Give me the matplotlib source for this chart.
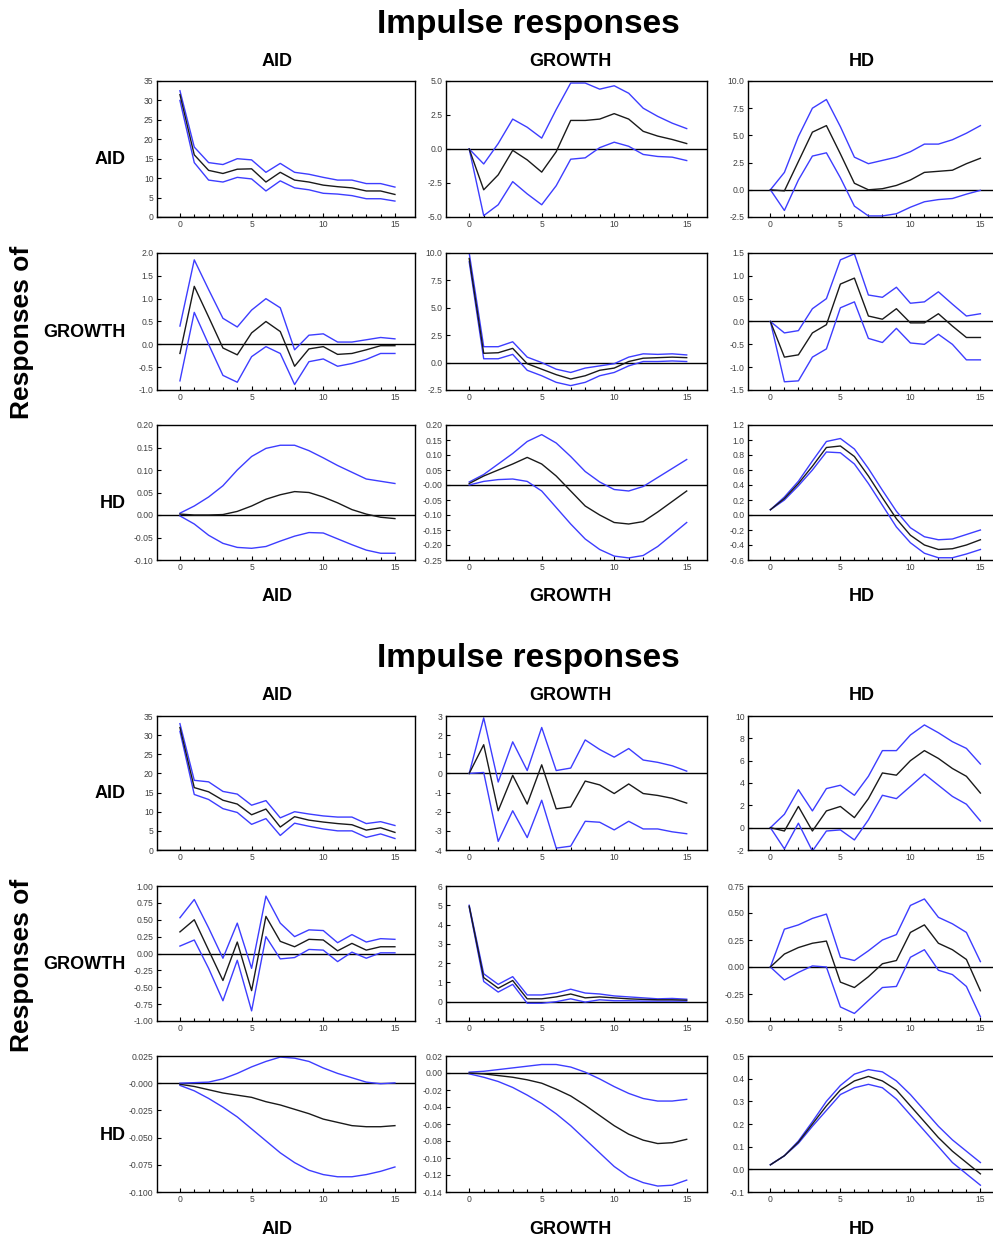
import numpy as np
import matplotlib.pyplot as plt

plt.rcParams['font.family'] = ['Liberation Sans', 'DejaVu Sans']

W, H = 993, 1241
periods = np.arange(16)
names = ['AID', 'GROWTH', 'HD']

# ---------------- first chart: responses (mid, upper band, lower band) ----------------
t_aid_aid = [31.5, 16, 12, 11.2, 12.3, 12.4, 9, 11.5, 9.5, 9, 8.2, 7.8, 7.5, 6.7, 6.7, 5.8]
t_aid_aid_up = [32.5, 18, 14, 13.5, 15, 14.7, 11.5, 13.8, 11.5, 11, 10.2, 9.5, 9.5, 8.6, 8.6, 7.7]
t_aid_aid_lo = [30, 14, 9.5, 9, 10.2, 9.8, 6.7, 9.3, 7.5, 7, 6.1, 5.9, 5.5, 4.7, 4.7, 4.1]

t_aid_gro = [0, -3.0, -1.9, -0.1, -0.8, -1.7, -0.2, 2.1, 2.1, 2.2, 2.6, 2.2, 1.3, 0.95, 0.7, 0.4]
t_aid_gro_up = [0, -1.1, 0.4, 2.2, 1.6, 0.8, 2.9, 4.85, 4.85, 4.4, 4.65, 4.1, 3.0, 2.4, 1.9, 1.5]
t_aid_gro_lo = [0, -4.9, -4.1, -2.4, -3.3, -4.1, -2.7, -0.75, -0.65, 0.1, 0.5, 0.2, -0.4, -0.55, -0.6, -0.85]

t_aid_hd = [0, -0.1, 2.6, 5.3, 5.9, 3.3, 0.6, 0, 0.1, 0.4, 0.9, 1.6, 1.7, 1.8, 2.4, 2.9]
t_aid_hd_up = [0, 1.6, 4.9, 7.5, 8.3, 5.8, 3.0, 2.4, 2.7, 3.0, 3.5, 4.2, 4.2, 4.6, 5.2, 5.9]
t_aid_hd_lo = [0, -1.9, 0.9, 3.1, 3.4, 1.1, -1.5, -2.4, -2.4, -2.2, -1.6, -1.1, -0.9, -0.8, -0.4, -0.05]

t_gro_aid = [-0.2, 1.27, 0.6, -0.08, -0.23, 0.25, 0.5, 0.28, -0.48, -0.1, -0.05, -0.22, -0.2, -0.12, -0.03, -0.03]
t_gro_aid_up = [0.4, 1.85, 1.2, 0.57, 0.38, 0.75, 1.0, 0.8, -0.12, 0.2, 0.23, 0.05, 0.05, 0.1, 0.15, 0.12]
t_gro_aid_lo = [-0.8, 0.7, 0.0, -0.68, -0.83, -0.27, -0.05, -0.2, -0.88, -0.38, -0.32, -0.48, -0.42, -0.33, -0.2, -0.2]

t_gro_gro = [9.5, 0.85, 0.9, 1.3, -0.1, -0.6, -1.1, -1.5, -1.2, -0.7, -0.5, 0.1, 0.4, 0.45, 0.5, 0.45]
t_gro_gro_up = [10, 1.45, 1.45, 1.9, 0.5, 0.0, -0.6, -0.9, -0.5, -0.3, -0.1, 0.5, 0.8, 0.75, 0.8, 0.7]
t_gro_gro_lo = [9.2, 0.35, 0.35, 0.75, -0.7, -1.2, -1.8, -2.1, -1.8, -1.2, -0.9, -0.3, 0.1, 0.1, 0.15, 0.1]

t_gro_hd = [0, -0.78, -0.73, -0.25, -0.07, 0.82, 0.95, 0.12, 0.05, 0.28, -0.03, -0.03, 0.17, -0.1, -0.35, -0.35]
t_gro_hd_up = [0, -0.25, -0.2, 0.28, 0.5, 1.35, 1.48, 0.58, 0.53, 0.75, 0.4, 0.43, 0.65, 0.38, 0.12, 0.17]
t_gro_hd_lo = [0, -1.32, -1.3, -0.78, -0.6, 0.3, 0.43, -0.37, -0.46, -0.15, -0.47, -0.5, -0.28, -0.5, -0.84, -0.84]

t_hd_aid = [0.002, 0.0, 0.0, 0.001, 0.008, 0.02, 0.035, 0.045, 0.052, 0.05, 0.04, 0.027, 0.012, 0.002, -0.005, -0.008]
t_hd_aid_up = [0.004, 0.02, 0.04, 0.065, 0.1, 0.13, 0.148, 0.155, 0.155, 0.143, 0.127, 0.11, 0.095, 0.08, 0.075, 0.07]
t_hd_aid_lo = [-0.002, -0.02, -0.045, -0.063, -0.072, -0.074, -0.07, -0.058, -0.047, -0.039, -0.04, -0.053, -0.066, -0.078, -0.085, -0.085]

t_hd_gro = [0.005, 0.03, 0.05, 0.07, 0.092, 0.07, 0.03, -0.02, -0.07, -0.1, -0.125, -0.13, -0.122, -0.09, -0.055, -0.02]
t_hd_gro_up = [0.01, 0.035, 0.07, 0.105, 0.145, 0.168, 0.14, 0.095, 0.045, 0.01, -0.015, -0.02, -0.005, 0.025, 0.055, 0.085]
t_hd_gro_lo = [0.0, 0.012, 0.018, 0.02, 0.012, -0.02, -0.075, -0.13, -0.18, -0.215, -0.237, -0.243, -0.235, -0.205, -0.165, -0.125]

t_hd_hd = [0.07, 0.22, 0.42, 0.65, 0.9, 0.92, 0.78, 0.52, 0.23, -0.05, -0.27, -0.4, -0.46, -0.45, -0.4, -0.33]
t_hd_hd_up = [0.07, 0.24, 0.45, 0.72, 0.98, 1.02, 0.88, 0.62, 0.33, 0.05, -0.17, -0.29, -0.33, -0.32, -0.26, -0.2]
t_hd_hd_lo = [0.07, 0.2, 0.39, 0.6, 0.84, 0.83, 0.68, 0.42, 0.13, -0.16, -0.37, -0.51, -0.57, -0.57, -0.52, -0.46]

# ---------------- second chart ----------------
b_aid_aid = [32, 16.3, 15.2, 13, 12, 9.2, 10.7, 6, 8.7, 7.8, 7.3, 6.9, 6.6, 5.2, 5.8, 4.6]
b_aid_aid_up = [33, 18.2, 17.8, 15.3, 14.6, 11.7, 12.9, 8.4, 10, 9.4, 8.9, 8.6, 8.6, 6.9, 7.4, 6.4]
b_aid_aid_lo = [31, 14.5, 13.2, 10.8, 9.8, 6.7, 8.2, 3.8, 7, 6.2, 5.5, 5.0, 5.0, 3.3, 4.2, 3.0]

b_aid_gro = [0, 1.5, -1.95, -0.1, -1.6, 0.45, -1.85, -1.75, -0.4, -0.6, -1.05, -0.55, -1.05, -1.15, -1.3, -1.55]
b_aid_gro_up = [0, 2.9, -0.45, 1.65, 0.15, 2.4, 0.15, 0.28, 1.75, 1.25, 0.85, 1.3, 0.7, 0.58, 0.4, 0.12]
b_aid_gro_lo = [0, 0.05, -3.55, -1.95, -3.35, -1.4, -3.9, -3.8, -2.5, -2.55, -2.95, -2.5, -2.9, -2.9, -3.05, -3.15]

b_aid_hd = [0, -0.3, 1.9, -0.3, 1.5, 1.9, 0.9, 2.6, 4.9, 4.7, 6.0, 6.9, 6.2, 5.3, 4.6, 3.1]
b_aid_hd_up = [0, 1.2, 3.4, 1.5, 3.5, 3.8, 2.9, 4.6, 6.9, 6.9, 8.3, 9.2, 8.5, 7.7, 7.1, 5.7]
b_aid_hd_lo = [0, -1.9, 0.4, -2.1, -0.3, -0.2, -1.1, 0.7, 2.9, 2.6, 3.7, 4.8, 3.8, 2.8, 2.1, 0.6]

b_gro_aid = [0.32, 0.5, 0.05, -0.4, 0.17, -0.55, 0.55, 0.18, 0.1, 0.21, 0.2, 0.04, 0.15, 0.05, 0.1, 0.1]
b_gro_aid_up = [0.53, 0.8, 0.38, -0.07, 0.45, -0.22, 0.85, 0.45, 0.25, 0.35, 0.34, 0.16, 0.28, 0.17, 0.22, 0.21]
b_gro_aid_lo = [0.11, 0.2, -0.22, -0.7, -0.1, -0.85, 0.25, -0.08, -0.06, 0.06, 0.05, -0.12, 0.02, -0.07, 0.01, 0.01]

b_gro_gro = [4.95, 1.25, 0.7, 1.1, 0.15, 0.15, 0.25, 0.4, 0.2, 0.25, 0.2, 0.15, 0.12, 0.1, 0.1, 0.08]
b_gro_gro_up = [5.0, 1.45, 0.9, 1.3, 0.35, 0.35, 0.45, 0.65, 0.45, 0.4, 0.3, 0.25, 0.2, 0.15, 0.17, 0.13]
b_gro_gro_lo = [4.9, 1.05, 0.5, 0.9, -0.08, -0.08, 0.0, 0.15, -0.02, 0.1, 0.05, 0.05, 0.03, 0.03, 0.03, 0.03]

b_gro_hd = [0, 0.12, 0.18, 0.22, 0.24, -0.14, -0.19, -0.09, 0.03, 0.06, 0.32, 0.39, 0.22, 0.16, 0.07, -0.22]
b_gro_hd_up = [0, 0.35, 0.39, 0.45, 0.49, 0.09, 0.06, 0.15, 0.25, 0.3, 0.57, 0.63, 0.46, 0.4, 0.32, 0.05]
b_gro_hd_lo = [0, -0.12, -0.05, 0.01, 0.0, -0.37, -0.43, -0.31, -0.19, -0.18, 0.09, 0.16, -0.03, -0.07, -0.18, -0.46]

b_hd_aid = [-0.001, -0.003, -0.006, -0.009, -0.011, -0.013, -0.017, -0.02, -0.024, -0.028, -0.033, -0.036, -0.039, -0.04, -0.04, -0.039]
b_hd_aid_up = [0.0, 0.0005, 0.001, 0.004, 0.009, 0.015, 0.02, 0.024, 0.023, 0.02, 0.014, 0.009, 0.005, 0.001, -0.0005, 0.0003]
b_hd_aid_lo = [-0.002, -0.007, -0.014, -0.022, -0.031, -0.042, -0.053, -0.064, -0.073, -0.08, -0.084, -0.086, -0.086, -0.084, -0.081, -0.077]

b_hd_gro = [0.0, -0.001, -0.003, -0.005, -0.008, -0.012, -0.019, -0.027, -0.038, -0.05, -0.062, -0.072, -0.079, -0.083, -0.082, -0.078]
b_hd_gro_up = [0.001, 0.002, 0.004, 0.006, 0.008, 0.01, 0.01, 0.007, 0.001, -0.007, -0.016, -0.024, -0.03, -0.033, -0.033, -0.031]
b_hd_gro_lo = [-0.001, -0.005, -0.01, -0.017, -0.026, -0.036, -0.048, -0.062, -0.078, -0.094, -0.11, -0.122, -0.129, -0.133, -0.132, -0.126]

b_hd_hd = [0.02, 0.06, 0.12, 0.2, 0.28, 0.35, 0.39, 0.41, 0.39, 0.35, 0.28, 0.21, 0.14, 0.08, 0.03, -0.02]
b_hd_hd_up = [0.02, 0.06, 0.125, 0.21, 0.3, 0.37, 0.42, 0.44, 0.43, 0.39, 0.33, 0.26, 0.19, 0.13, 0.08, 0.03]
b_hd_hd_lo = [0.02, 0.06, 0.115, 0.19, 0.26, 0.33, 0.36, 0.375, 0.36, 0.31, 0.24, 0.17, 0.1, 0.03, -0.02, -0.07]

# y axis: (min, max, step, format, label used at zero)
t_axes = [[(0, 35, 5, '%d', None), (-5, 5, 2.5, '%.1f', None), (-2.5, 10, 2.5, '%.1f', None)],
          [(-1, 2, 0.5, '%.1f', None), (-2.5, 10, 2.5, '%.1f', None), (-1.5, 1.5, 0.5, '%.1f', None)],
          [(-0.1, 0.2, 0.05, '%.2f', None), (-0.25, 0.2, 0.05, '%.2f', '-0.00'), (-0.6, 1.2, 0.2, '%.1f', None)]]
b_axes = [[(0, 35, 5, '%d', None), (-4, 3, 1, '%d', None), (-2, 10, 2, '%d', None)],
          [(-1, 1, 0.25, '%.2f', None), (-1, 6, 1, '%d', None), (-0.5, 0.75, 0.25, '%.2f', None)],
          [(-0.1, 0.025, 0.025, '%.3f', '-0.000'), (-0.14, 0.02, 0.02, '%.2f', None), (-0.1, 0.5, 0.1, '%.1f', None)]]

t_data = [[(t_aid_aid, t_aid_aid_up, t_aid_aid_lo), (t_aid_gro, t_aid_gro_up, t_aid_gro_lo), (t_aid_hd, t_aid_hd_up, t_aid_hd_lo)],
          [(t_gro_aid, t_gro_aid_up, t_gro_aid_lo), (t_gro_gro, t_gro_gro_up, t_gro_gro_lo), (t_gro_hd, t_gro_hd_up, t_gro_hd_lo)],
          [(t_hd_aid, t_hd_aid_up, t_hd_aid_lo), (t_hd_gro, t_hd_gro_up, t_hd_gro_lo), (t_hd_hd, t_hd_hd_up, t_hd_hd_lo)]]
b_data = [[(b_aid_aid, b_aid_aid_up, b_aid_aid_lo), (b_aid_gro, b_aid_gro_up, b_aid_gro_lo), (b_aid_hd, b_aid_hd_up, b_aid_hd_lo)],
          [(b_gro_aid, b_gro_aid_up, b_gro_aid_lo), (b_gro_gro, b_gro_gro_up, b_gro_gro_lo), (b_gro_hd, b_gro_hd_up, b_gro_hd_lo)],
          [(b_hd_aid, b_hd_aid_up, b_hd_aid_lo), (b_hd_gro, b_hd_gro_up, b_hd_gro_lo), (b_hd_hd, b_hd_hd_up, b_hd_hd_lo)]]

blue = '#3d3dff'
tick_col = '#404040'
bold = dict(fontweight='bold', color='black')

fig = plt.figure(figsize=(W / 100, H / 100), dpi=100)

cols = [(157, 415), (446, 707), (748, 1000)]
col_centres = [277, 570, 862]


def px_axes(x0, x1, y0, y1):
    return fig.add_axes([x0 / W, 1 - y1 / H, (x1 - x0) / W, (y1 - y0) / H])


def draw_block(rows, data, axes_spec, title_y, coltitle_y, bottom_y, resp_y):
    fig.text(528 / W, 1 - title_y / H, 'Impulse responses', ha='center', va='center',
             fontsize=24, **bold)
    for j, nm in enumerate(names):
        xc = col_centres[j] / W
        fig.text(xc, 1 - coltitle_y / H, nm, ha='center', va='center', fontsize=13, **bold)
        fig.text(xc, 1 - bottom_y / H, nm, ha='center', va='center', fontsize=13, **bold)
    fig.text(22 / W, 1 - resp_y / H, 'Responses of', rotation=90, ha='center', va='center',
             fontsize=19, **bold)
    for i in range(3):
        y0, y1 = rows[i]
        fig.text(126 / W, 1 - ((y0 + y1) / 2 + 11) / H, names[i], ha='right', va='center',
                 fontsize=13, **bold)
        for j in range(3):
            ax = px_axes(cols[j][0], cols[j][1], y0, y1)
            mid, up, lo = data[i][j]
            ax.axhline(0, color='black', lw=1.0, zorder=1)
            ax.plot(periods, up, color=blue, lw=1.0, zorder=2)
            ax.plot(periods, lo, color=blue, lw=1.0, zorder=2)
            ax.plot(periods, mid, color='#1a1a1a', lw=1.0, zorder=3)
            lo_lim, hi_lim, step, fmt, zero_lab = axes_spec[i][j]
            ticks = np.arange(lo_lim, hi_lim + step / 2, step)
            labels = [fmt % v for v in ticks]
            if zero_lab is not None:
                labels = [zero_lab if abs(v) < 1e-9 else lab for v, lab in zip(ticks, labels)]
            ax.set_ylim(lo_lim, hi_lim)
            ax.set_yticks(ticks)
            ax.set_yticklabels(labels)
            ax.set_xlim(-1.6, 16.4)
            ax.set_xticks(np.arange(0, 16, 5))
            ax.set_xticks(periods, minor=True)
            ax.tick_params(axis='both', which='both', direction='in', labelsize=6.2,
                           labelcolor=tick_col, color='black', width=0.8)
            ax.tick_params(axis='both', which='major', length=3, pad=2.5)
            ax.tick_params(axis='x', which='minor', length=2)
            for s in ax.spines.values():
                s.set_linewidth(1.0)
                s.set_color('black')


draw_block([(81, 217), (253, 390), (425, 560)], t_data, t_axes, 25, 62, 597, 332)
draw_block([(716, 850), (886, 1021), (1056, 1192)], b_data, b_axes, 658, 696, 1230, 965)

fig.savefig('out.png', dpi=100)
